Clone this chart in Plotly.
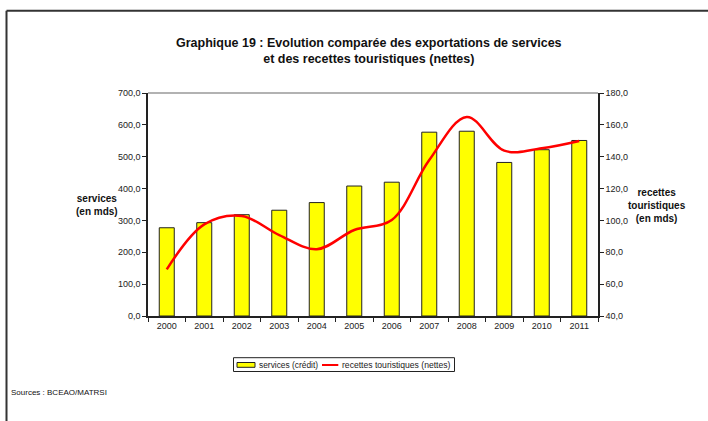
import plotly.graph_objects as go

years = ["2000", "2001", "2002", "2003", "2004", "2005", "2006", "2007", "2008", "2009", "2010", "2011"]
services = [277, 293, 318, 332, 356, 408, 420, 577, 580, 482, 522, 551]
recettes = [69.3, 97.5, 102.8, 90.8, 81.9, 94.0, 100.3, 137.9, 165.0, 143.8, 145.3, 149.9]
series_names = ["services (crédit)", "recettes touristiques (nettes)"]

W, H = 708, 421
L, R, T, B = 148, 598, 93, 316

def px(x):
    return (x - L) / (R - L)

def py(y):
    return (B - y) / (B - T)

FONT = "Liberation Sans, Arial, sans-serif"
BAR_COLOR = "#FFFF00"
LINE_COLOR = "#FF0000"

fig = go.Figure()
fig.add_trace(go.Bar(
    x=years, y=services, name=series_names[0],
    marker=dict(color=BAR_COLOR, line=dict(color="#222222", width=1)),
    width=0.4,
))
fig.add_trace(go.Scatter(
    x=years, y=recettes, name=series_names[1], yaxis="y2",
    mode="lines", line=dict(color=LINE_COLOR, width=2.5, shape="spline", smoothing=1.0),
))

axis_common = dict(
    showline=True, linecolor="#222222", linewidth=1.5,
    ticks="outside", ticklen=4, tickcolor="#222222", tickwidth=1,
    tickfont=dict(size=9, color="#222222", family=FONT),
    showgrid=False, zeroline=False,
)

fig.update_layout(
    width=W, height=H,
    margin=dict(l=L, r=W - R, t=T, b=H - B, pad=0),
    paper_bgcolor="white", plot_bgcolor="white",
    separators=", ",
    font=dict(family=FONT, color="#222222"),
    showlegend=False,
    xaxis=dict(**axis_common, type="category", tickson="boundaries"),
    yaxis=dict(**axis_common, range=[0, 700], dtick=100, tickformat=".1f"),
    yaxis2=dict(**axis_common, range=[40, 180], dtick=20, tickformat=".1f",
                overlaying="y", side="right"),
    bargap=0.6,
)

def hline(x0, x1, y, color, width):
    fig.add_shape(type="line", xref="paper", yref="paper", x0=px(x0), x1=px(x1), y0=py(y), y1=py(y),
                  line=dict(color=color, width=width))

# top border line of plot area
fig.add_shape(type="line", xref="paper", yref="paper", x0=0, x1=1, y0=1, y1=1,
              line=dict(color="#999999", width=1.5))
# outer frame lines (top and left)
hline(6.5, 708, 10.8, "#333333", 2)
fig.add_shape(type="line", xref="paper", yref="paper", x0=px(6.5), x1=px(6.5), y0=py(10.8), y1=py(421),
              line=dict(color="#333333", width=2))

# legend (drawn manually to match the compact original)
fig.add_shape(type="rect", xref="paper", yref="paper", x0=px(233.5), x1=px(454.5), y0=py(357.7), y1=py(371.5),
              line=dict(color="#222222", width=1), fillcolor="white")
fig.add_shape(type="rect", xref="paper", yref="paper", x0=px(237), x1=px(255), y0=py(362.5), y1=py(367.3),
              line=dict(color="#222222", width=1), fillcolor=BAR_COLOR)
fig.add_annotation(xref="paper", yref="paper", x=px(256.5), y=py(364.8), xanchor="left", yanchor="middle",
                   text=series_names[0], showarrow=False,
                   font=dict(size=8.4, family=FONT, color="#222222"))
hline(322, 338.3, 365, LINE_COLOR, 2)
fig.add_annotation(xref="paper", yref="paper", x=px(340), y=py(364.8), xanchor="left", yanchor="middle",
                   text=series_names[1], showarrow=False,
                   font=dict(size=8.6, family=FONT, color="#222222"))

# title
fig.add_annotation(xref="paper", yref="paper", x=px(369), y=py(51), xanchor="center", yanchor="middle",
                   text="<b>Graphique 19 : Evolution comparée des exportations de services<br>et des recettes touristiques (nettes)</b>",
                   showarrow=False, font=dict(size=12.5, family=FONT, color="#111111"), align="center")
# axis titles
fig.add_annotation(xref="paper", yref="paper", x=px(97), y=py(205), xanchor="center", yanchor="middle",
                   text="<b>services<br>(en mds)</b>", showarrow=False,
                   font=dict(size=10, family=FONT, color="#111111"), align="center")
fig.add_annotation(xref="paper", yref="paper", x=px(657), y=py(205), xanchor="center", yanchor="middle",
                   text="<b>recettes<br>touristiques<br>(en mds)</b>", showarrow=False,
                   font=dict(size=10, family=FONT, color="#111111"), align="center")
# source
fig.add_annotation(xref="paper", yref="paper", x=px(9), y=py(392), xanchor="left", yanchor="middle",
                   text="Sources : BCEAO/MATRSI", showarrow=False,
                   font=dict(size=8, family=FONT, color="#111111"))

fig.write_html("out.html", config={"displayModeBar": False},
               post_script="document.body.style.margin='0';document.body.style.overflow='hidden';")
